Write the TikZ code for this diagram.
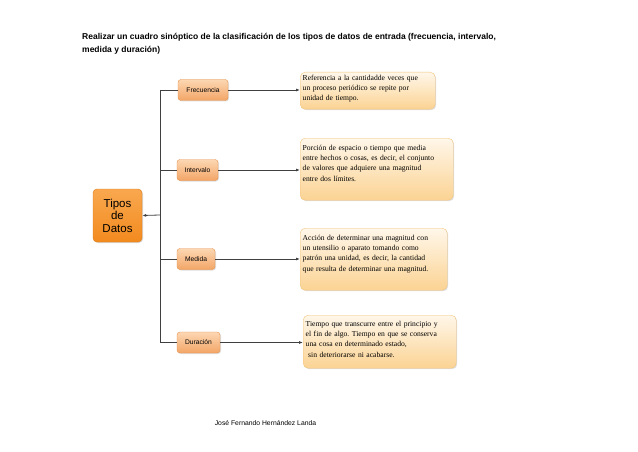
\documentclass[tikz,border=0pt]{standalone}
\usepackage{fontspec}
\setmainfont{Liberation Serif}
\setsansfont{Liberation Sans}
\usetikzlibrary{arrows.meta,shadows}
\frenchspacing

\definecolor{lineagris}{HTML}{404040}
\definecolor{naranja}{HTML}{F28A1E}
\definecolor{naranjaclaro}{HTML}{F9A850}
\definecolor{bordenaranja}{HTML}{DE7A16}
\definecolor{ramaarriba}{HTML}{FCD7B3}
\definecolor{ramaabajo}{HTML}{F3A566}
\definecolor{bordarama}{HTML}{E5914C}
\definecolor{descarriba}{HTML}{FFF7EA}
\definecolor{descabajo}{HTML}{FBD393}
\definecolor{bordedesc}{HTML}{F3C57C}

\tikzset{
  tipo/.style={draw=bordenaranja, rounded corners=4pt, top color=naranjaclaro,
    bottom color=naranja, font=\sffamily\fontsize{11.5}{12.5}\selectfont,
    align=center, minimum width=49pt, minimum height=53pt, inner sep=0pt,
    drop shadow={opacity=0.3, shadow xshift=1pt, shadow yshift=-1pt}},
  rama/.style={draw=bordarama, rounded corners=3pt, top color=ramaarriba,
    bottom color=ramaabajo, font=\sffamily\fontsize{6.7}{7}\selectfont,
    minimum height=21pt, inner sep=0pt,
    drop shadow={opacity=0.25, shadow xshift=1pt, shadow yshift=-1pt}},
  desc/.style={draw=bordedesc, rounded corners=5pt, top color=descarriba,
    bottom color=descabajo, font=\fontsize{7.6}{10.3}\selectfont,
    align=left, inner xsep=2.5pt, inner ysep=0pt, anchor=north west,
    drop shadow={opacity=0.25, shadow xshift=1pt, shadow yshift=-1pt}},
  linea/.style={draw=lineagris, line width=0.8pt},
  >={Latex[length=4pt,width=3pt]}
}

\begin{document}
\begin{tikzpicture}[x=1pt,y=-1pt]
\useasboundingbox (0,0) rectangle (638,452);

% Title
\node[anchor=north west, align=left, inner sep=0pt,
  font=\sffamily\bfseries\fontsize{8.5}{13}\selectfont] (titulo) at (82,33)
  {Realizar un cuadro sinóptico de la clasificación de los tipos de datos de entrada (frecuencia, intervalo,\\
   medida y duración)};

% Main box
\node[tipo] (tipos) at (117.5,215.5) {Tipos\\de\\Datos};

% Branch boxes
\node[rama, minimum width=50pt] (frec) at (203,90) {Frecuencia};
\node[rama, minimum width=41pt] (inter) at (197.5,170) {Intervalo};
\node[rama, minimum width=38pt] (medi) at (196,259) {Medida};
\node[rama, minimum width=43pt] (dura) at (198.5,342.5) {Duración};

% Descriptions
\node[desc, text width=130pt, text height=8pt, text depth=29pt] (dfrec) at (300,72)
  {Referencia a la cantidadde veces que\\
   un proceso periódico se repite por\\
   unidad de tiempo.};
\node[desc, text width=148pt, text height=12pt, text depth=50pt] (dinter) at (300,138)
  {Porción de espacio o tiempo que media\\
   entre hechos o cosas, es decir, el conjunto\\
   de valores que adquiere una magnitud\\
   entre dos límites.};
\node[desc, text width=142pt, text height=12pt, text depth=50pt] (dmedi) at (300,228)
  {Acción de determinar una magnitud con\\
   un utensilio o aparato tomando como\\
   patrón una unidad, es decir, la cantidad\\
   que resulta de determinar una magnitud.};
\node[desc, text width=148pt, text height=11pt, text depth=42pt] (ddura) at (303,315)
  {Tiempo que transcurre entre el principio y\\
   el fin de algo. Tiempo en que se conserva\\
   una cosa en determinado estado,\\
   \ sin deteriorarse ni acabarse.};

% Trunk
\coordinate (tronco) at (160,215);
\draw[linea] (frec.west) -| (tronco);
\draw[linea] (inter.west) -| (tronco);
\draw[linea] (medi.west) -| (tronco);
\draw[linea] (dura.west) -| (tronco);
\draw[linea,->] (tronco) -- (tipos.east);

% Arrows to descriptions
\draw[linea,->] (frec.east) -- (frec.east -| dfrec.west);
\draw[linea,->] (inter.east) -- (inter.east -| dinter.west);
\draw[linea,->] (medi.east) -- (medi.east -| dmedi.west);
\draw[linea,->] (dura.east) -- (dura.east -| ddura.west);

% Author
\node[font=\sffamily\fontsize{6.8}{8}\selectfont] (autor) at (265.5,423)
  {José Fernando Hernández Landa};

\end{tikzpicture}
\end{document}
